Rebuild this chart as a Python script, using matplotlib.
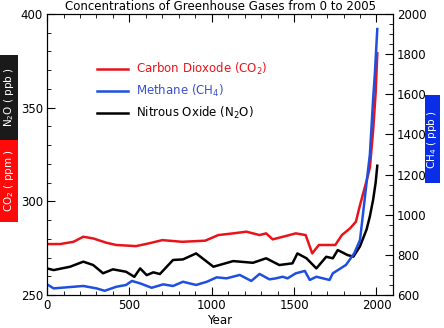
import matplotlib
matplotlib.use("Agg")
import matplotlib.pyplot as plt
from matplotlib.patches import Rectangle
from matplotlib.ticker import MultipleLocator

# CO2 (ppm), left axis
co2_years = [0, 80, 160, 220, 280, 360, 420, 540, 620, 700, 820, 960, 1040,
             1130, 1210, 1290, 1330, 1370, 1450, 1510, 1570, 1610, 1650, 1710,
             1750, 1790, 1840, 1875, 1900, 1940, 1960, 1980, 1995, 2005]
co2_vals = [277.2, 277.2, 278.4, 281.1, 280.2, 277.9, 276.7, 276.1, 277.6,
            279.3, 278.4, 279.0, 282.0, 282.9, 283.8, 282.0, 282.9, 279.7,
            281.5, 282.9, 282.0, 272.2, 276.7, 276.7, 276.7, 282.0, 285.6,
            289.1, 298.0, 311.0, 318.0, 338.0, 358.0, 379.0]

# N2O (ppb), left axis
n2o_years = [0, 40, 140, 220, 280, 340, 400, 480, 530, 565, 605, 645, 685,
             765, 825, 905, 970, 1010, 1130, 1250, 1330, 1410, 1490, 1520,
             1575, 1635, 1695, 1735, 1765, 1825, 1860, 1900, 1940, 1960, 1980,
             1995, 2005]
n2o_vals = [264.2, 263.3, 265.1, 267.8, 266.0, 261.6, 263.7, 262.4, 259.7,
            264.2, 260.6, 262.1, 261.2, 268.7, 269.0, 272.2, 267.8, 265.1,
            268.1, 267.2, 269.6, 266.0, 266.9, 272.2, 269.6, 264.2, 270.4,
            269.6, 274.0, 271.3, 270.5, 276.0, 285.0, 292.0, 301.0, 310.0,
            319.0]

# CH4 (ppb), right axis
ch4_years = [0, 40, 160, 220, 300, 350, 420, 480, 515, 565, 635, 705, 765,
             825, 905, 970, 1030, 1090, 1170, 1240, 1290, 1350, 1390, 1430,
             1460, 1510, 1565, 1595, 1635, 1675, 1715, 1735, 1815, 1865, 1900,
             1940, 1960, 1980, 1990, 2000, 2005]
ch4_vals = [653, 633, 641, 645, 633, 621, 641, 650, 670, 658, 636, 653, 645,
            666, 650, 666, 688, 683, 700, 670, 705, 678, 683, 691, 683, 708,
            720, 675, 691, 683, 675, 708, 750, 808, 874, 1160, 1300, 1580,
            1700, 1850, 1925]

RED = "#e8141a"
BLUE = "#1f4fe0"
BLACK = "#000000"

fig = plt.figure(figsize=(4.44, 3.28), dpi=100)
ax = fig.add_axes([0.106, 0.1006, 0.779, 0.8567])
ax2 = ax.twinx()

ax.plot(co2_years, co2_vals, color=RED, lw=1.8)
ax.plot(n2o_years, n2o_vals, color=BLACK, lw=1.8)
ax2.plot(ch4_years, ch4_vals, color=BLUE, lw=1.8)

ax.set_xlim(0, 2100)
ax.set_ylim(250, 400)
ax2.set_ylim(600, 2000)

ax.xaxis.set_major_locator(MultipleLocator(500))
ax.xaxis.set_minor_locator(MultipleLocator(100))
ax.yaxis.set_major_locator(MultipleLocator(50))
ax.yaxis.set_minor_locator(MultipleLocator(10))
ax2.yaxis.set_major_locator(MultipleLocator(200))
ax2.yaxis.set_minor_locator(MultipleLocator(50))

ax.tick_params(which="both", direction="in", top=True, right=False,
               labelsize=8.5, pad=3)
ax.tick_params(which="major", length=6)
ax.tick_params(which="minor", length=3)
ax2.tick_params(which="both", direction="in", labelsize=8.5, pad=3)
ax2.tick_params(which="major", length=6)
ax2.tick_params(which="minor", length=3)

ax.set_xlabel("Year", fontsize=8.5, labelpad=1)
ax.set_title("Concentrations of Greenhouse Gases from 0 to 2005",
             fontsize=8.5, pad=3)

# legend drawn by hand
legend_items = [("Carbon Dioxode (CO$_2$)", RED, RED),
                ("Methane (CH$_4$)", BLUE, "#3a4fd0"),
                ("Nitrous Oxide (N$_2$O)", BLACK, BLACK)]
for i, (label, lc, tc) in enumerate(legend_items):
    y = 0.789 - i * 0.066
    fig.add_artist(plt.Line2D([0.218, 0.288], [y, y], color=lc, lw=1.8,
                              transform=fig.transFigure))
    fig.text(0.306, y, label, color=tc, fontsize=8.5, va="center")

# coloured axis-label boxes: (label, x0, y0, w, h, colour)
label_boxes = [
    ("CO$_2$ ( ppm )", 0.0, 0.323, 0.0405, 0.250, "#ff0a0a"),
    ("N$_2$O ( ppb )", 0.0, 0.573, 0.0405, 0.259, "#1a1a1a"),
    ("CH$_4$ ( ppb )", 0.957, 0.442, 0.034, 0.268, "#0a2ee8"),
]
for label, x0, y0, w, h, c in label_boxes:
    fig.add_artist(Rectangle((x0, y0), w, h, transform=fig.transFigure,
                             fc=c, ec="none"))
    fig.text(x0 + w / 2, y0 + h / 2, label, rotation=90, color="white",
             fontsize=7.5, ha="center", va="center")

fig.savefig("out.png", dpi=100)
